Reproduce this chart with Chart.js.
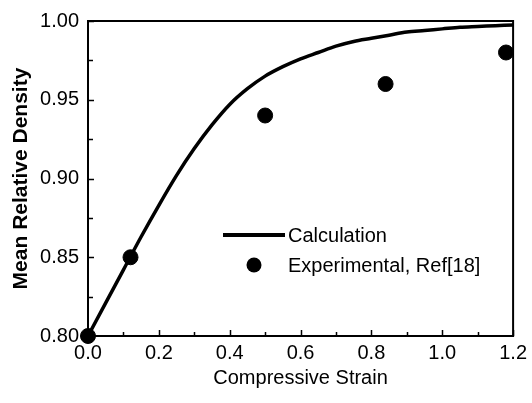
<!DOCTYPE html>
<html><head><meta charset="utf-8">
<script src="https://cdn.jsdelivr.net/npm/chart.js@4/dist/chart.umd.min.js"></script>
<style>html,body{margin:0;padding:0;background:#fff}#wrap{width:532px;height:403px}</style>
</head><body><div id="wrap"><canvas id="c" width="532" height="403"></canvas></div>
<script>
// ---- data ----
const calcStrain  = [0, 0.05, 0.1, 0.15, 0.2, 0.25, 0.3, 0.35, 0.4, 0.45, 0.5, 0.55, 0.6, 0.65, 0.7, 0.75, 0.8, 0.85, 0.9, 0.95, 1.0, 1.05, 1.1, 1.15, 1.2];
const calcDensity = [0.800, 0.821, 0.842, 0.863, 0.883, 0.902, 0.919, 0.934, 0.947, 0.957, 0.965, 0.971, 0.976, 0.980, 0.984, 0.987, 0.989, 0.991, 0.993, 0.994, 0.995, 0.996, 0.9965, 0.997, 0.9975];
const expStrain   = [0, 0.12, 0.5, 0.84, 1.18];
const expDensity  = [0.80, 0.85, 0.94, 0.96, 0.98];
const xTickValues = [0, 0.2, 0.4, 0.6, 0.8, 1.0, 1.2];
const xMinorTicks = [0.1, 0.3, 0.5, 0.7, 0.9, 1.1];
const yTickValues = [0.80, 0.85, 0.90, 0.95, 1.00];
const yMinorTicks = [0.825, 0.875, 0.925, 0.975];
const seriesLabels = ['Calculation', 'Experimental, Ref[18]'];
const xTitle = 'Compressive Strain';
const yTitle = 'Mean Relative Density';

const FONT = "'Liberation Sans', Arial, sans-serif";

const framePlugin = {
  id: 'frameTicks',
  afterDatasetsDraw(chart) {
    const {ctx, chartArea: a, scales: {x, y}} = chart;
    ctx.save();
    ctx.strokeStyle = '#000';
    ctx.lineWidth = 2;
    ctx.strokeRect(a.left, a.top, a.right - a.left, a.bottom - a.top);
    ctx.lineWidth = 1.5;
    ctx.beginPath();
    xTickValues.forEach(v => { const p = Math.round(x.getPixelForValue(v)) + 0.5; ctx.moveTo(p, a.bottom); ctx.lineTo(p, a.bottom - 6); });
    xMinorTicks.forEach(v => { const p = Math.round(x.getPixelForValue(v)) + 0.5; ctx.moveTo(p, a.bottom); ctx.lineTo(p, a.bottom - 4); });
    yTickValues.forEach(v => { const p = Math.round(y.getPixelForValue(v)) + 0.5; ctx.moveTo(a.left, p); ctx.lineTo(a.left + 6, p); });
    yMinorTicks.forEach(v => { const p = Math.round(y.getPixelForValue(v)) + 0.5; ctx.moveTo(a.left, p); ctx.lineTo(a.left + 5, p); });
    ctx.stroke();

    // legend
    const lx = a.left + 135, ly = a.top + 214;
    ctx.lineWidth = 4;
    ctx.beginPath();
    ctx.moveTo(lx, ly); ctx.lineTo(lx + 62, ly);
    ctx.stroke();
    ctx.fillStyle = '#000';
    ctx.beginPath();
    ctx.arc(lx + 31, ly + 30, 7.5, 0, Math.PI * 2);
    ctx.fill();
    ctx.font = '20px ' + FONT;
    ctx.textBaseline = 'middle';
    ctx.textAlign = 'left';
    ctx.fillText(seriesLabels[0], lx + 65, ly + 1);
    ctx.fillText(seriesLabels[1], lx + 65, ly + 31);
    ctx.restore();
  }
};

new Chart(document.getElementById('c'), {
  type: 'scatter',
  data: {
    datasets: [
      {
        label: seriesLabels[0],
        type: 'line',
        data: calcStrain.map((v, i) => ({x: v, y: calcDensity[i]})),
        borderColor: '#000',
        borderWidth: 3.5,
        pointRadius: 0,
        fill: false,
        cubicInterpolationMode: 'monotone',
        showLine: true
      },
      {
        label: seriesLabels[1],
        data: expStrain.map((v, i) => ({x: v, y: expDensity[i]})),
        backgroundColor: '#000',
        borderColor: '#000',
        pointRadius: 7.5,
        pointHoverRadius: 7.5,
        showLine: false
      }
    ]
  },
  options: {
    responsive: false,
    devicePixelRatio: 1,
    animation: false,
    clip: false,
    layout: {padding: {top: 20, right: 15, left: 0, bottom: 0}},
    plugins: {legend: {display: false}, tooltip: {enabled: false}},
    scales: {
      x: {
        type: 'linear', min: 0, max: 1.2,
        grid: {display: false, drawTicks: false},
        border: {display: false},
        afterBuildTicks: s => { s.ticks = xTickValues.map(v => ({value: v})); },
        afterFit: s => { s.height = 67; },
        ticks: {color: '#000', font: {family: FONT, size: 20}, padding: 5, maxRotation: 0,
                callback: v => Number(v).toFixed(1)},
        title: {display: true, text: xTitle, color: '#000', font: {family: FONT, size: 20}, padding: {top: 0, bottom: 13}}
      },
      y: {
        type: 'linear', min: 0.80, max: 1.00,
        grid: {display: false, drawTicks: false},
        border: {display: false},
        afterBuildTicks: s => { s.ticks = yTickValues.map(v => ({value: v})); },
        afterFit: s => { s.width = 88; },
        ticks: {color: '#000', font: {family: FONT, size: 20}, padding: 9,
                callback: v => Number(v).toFixed(2)},
        title: {display: true, text: yTitle, color: '#000', font: {family: FONT, size: 21, weight: 'bold'}, padding: {top: 9, bottom: 0}}
      }
    }
  },
  plugins: [framePlugin]
});
</script>
</body></html>
